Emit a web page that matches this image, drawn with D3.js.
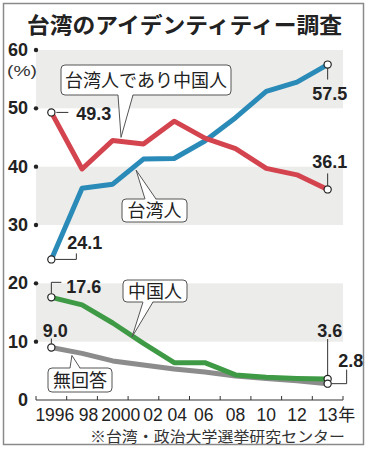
<!DOCTYPE html>
<html><head><meta charset="utf-8">
<script src="https://cdn.jsdelivr.net/npm/d3@7"></script>
<style>
body{margin:0;background:#fff;}
svg{display:block;}
</style></head>
<body>
<svg id="c" width="369" height="450"></svg>
<script>
const categories = ["1996","98","2000","02","04","06","08","10","12","13"];
const taiwanese = [24.1,36.3,37.0,41.3,41.4,44.4,48.4,52.9,54.5,57.5];
const both      = [49.3,39.6,44.5,43.9,47.8,44.9,43.1,39.7,38.6,36.1];
const chinese   = [17.6,16.3,13.2,9.7,6.4,6.4,4.3,3.9,3.7,3.6];
const noAnswer  = [9.0,8.0,6.7,6.0,5.3,4.8,4.1,3.7,3.3,2.8];
const yTicks = [0,10,20,30,40,50,60];
const bands = [[10,20],[30,40],[50,60]];
// layout: horizontal nudges of the x labels (px)
const labelNudge = [3.5,6.5,8,9.5,3,-1,0,0,0,0];

const svg = d3.select("#c");
const jp = "'Noto Sans CJK JP','Noto Sans',sans-serif";
const num = "'Liberation Sans',Arial,sans-serif";

const x = d3.scaleBand().domain(categories).range([36,343]);
const cx = c => x(c) + x.bandwidth()/2;
const y = d3.scaleLinear().domain([0,60]).range([400,50]);

// frame
svg.append("rect").attr("x",3.5).attr("y",3.5).attr("width",360).attr("height",441)
  .attr("fill","#fff").attr("stroke","#8a8a8a").attr("stroke-width",1.5);

// title
svg.append("text").attr("x",27).attr("y",33).attr("textLength",315).attr("lengthAdjust","spacingAndGlyphs")
  .attr("font-family",jp).attr("font-weight",700).attr("font-size",22).attr("fill","#222")
  .text("台湾のアイデンティティー調査");

// bands
svg.selectAll("rect.band").data(bands).enter().append("rect").attr("class","band")
  .attr("x",36).attr("width",307).attr("y",d=>y(d[1])).attr("height",d=>y(d[0])-y(d[1]))
  .attr("fill","#ececea");

// y labels
svg.selectAll("text.yl").data(yTicks).enter().append("text").attr("class","yl")
  .attr("x",28).attr("y",d=>y(d)+6).attr("text-anchor","end")
  .attr("font-family",num).attr("font-weight",700).attr("font-size",18).attr("fill","#222")
  .text(d=>d);
svg.selectAll("circle.yd").data(yTicks.filter(d=>d>0)).enter().append("circle").attr("class","yd")
  .attr("cx",36).attr("cy",d=>y(d)).attr("r",2.2).attr("fill","#222");
svg.append("text").attr("x",7).attr("y",76).attr("textLength",30).attr("lengthAdjust","spacingAndGlyphs")
  .attr("font-family",num).attr("font-size",15).attr("fill","#333").text("(%)");

// x axis
const xAxis = d3.axisBottom(x).tickSize(0).tickFormat(()=> "");
const gx = svg.append("g").attr("transform",`translate(0,${y(0)})`).call(xAxis);
gx.select(".domain").remove();
svg.append("line").attr("x1",36).attr("x2",343).attr("y1",y(0)).attr("y2",y(0)).attr("stroke","#333").attr("stroke-width",1);
const bounds = categories.map(c=>x(c)).concat([x(categories[categories.length-1])+x.bandwidth()]);
svg.selectAll("line.tk").data(bounds).enter().append("line").attr("class","tk")
  .attr("x1",d=>d).attr("x2",d=>d).attr("y1",y(0)).attr("y2",y(0)-4).attr("stroke","#333");
svg.selectAll("text.xl").data(categories).enter().append("text").attr("class","xl")
  .attr("x",(d,i)=>cx(d)+labelNudge[i]).attr("y",421).attr("text-anchor","middle")
  .attr("font-family",num).attr("font-size",17.5).attr("fill","#222")
  .text(d=>d);
svg.append("text").attr("x",cx("13")+10.5).attr("y",421)
  .attr("font-family",jp).attr("font-size",17).attr("fill","#222").text("年");

// source
svg.append("text").attr("x",90).attr("y",442).attr("textLength",255).attr("lengthAdjust","spacingAndGlyphs")
  .attr("font-family",jp).attr("font-size",15).attr("fill","#333")
  .text("※台湾・政治大学選挙研究センター");

// lines
const line = d3.line().x((d,i)=>cx(categories[i])).y(d=>y(d));
const series = [
  {v:noAnswer,c:"#8c8c8c"},
  {v:chinese,c:"#3f9a45"},
  {v:taiwanese,c:"#2a8ab8"},
  {v:both,c:"#d4444f"}
];
svg.selectAll("path.s").data(series).enter().append("path").attr("class","s")
  .attr("d",d=>line(d.v)).attr("fill","none").attr("stroke",d=>d.c)
  .attr("stroke-width",5).attr("stroke-linejoin","round");

// leaders
const lead = svg.append("g").attr("stroke","#333").attr("fill","none").attr("stroke-width",1);
const first = categories[0], last = categories[categories.length-1];
const fx = cx(first), lx = cx(last);
lead.append("path").attr("d",`M${fx+5},${y(both[0])}H${fx+17}`);
lead.append("path").attr("d",`M${lx},${y(taiwanese[9])}V${y(taiwanese[9])+15}`);
lead.append("path").attr("d",`M${lx},${y(both[9])}V${y(both[9])-16}`);
lead.append("path").attr("d",`M${fx+4},${y(taiwanese[0])}H${fx+25}V${y(taiwanese[0])-6}`);
lead.append("path").attr("d",`M${fx},${y(chinese[0])-4}V${y(chinese[0])-15}H${fx+10}`);
lead.append("path").attr("d",`M${fx},${y(noAnswer[0])-4}V${y(noAnswer[0])-9}`);
lead.append("path").attr("d",`M${lx},${y(chinese[9])-4}V${y(chinese[9])-40}`);
lead.append("path").attr("d",`M${lx+4},${y(noAnswer[9])}H${lx+19}V${y(noAnswer[9])-14}`);

// endpoint circles
const ends = [[fx,both[0]],[lx,both[9]],[fx,taiwanese[0]],[lx,taiwanese[9]],
  [fx,chinese[0]],[lx,chinese[9]],[fx,noAnswer[0]],[lx,noAnswer[9]]];
svg.selectAll("circle.e").data(ends).enter().append("circle").attr("class","e")
  .attr("cx",d=>d[0]).attr("cy",d=>y(d[1])).attr("r",3.6)
  .attr("fill","#fff").attr("stroke","#222").attr("stroke-width",1.2);

// value labels
const vl = (tx,ty,t,anchor)=>svg.append("text").attr("x",tx).attr("y",ty).attr("text-anchor",anchor||"start")
  .attr("font-family",num).attr("font-weight",700).attr("font-size",18).attr("fill","#222").text(t);
vl(fx+25, y(both[0])+8, both[0].toFixed(1));
vl(lx+2, y(taiwanese[9])+35, taiwanese[9].toFixed(1),"middle");
vl(lx+2, y(both[9])-21, both[9].toFixed(1),"middle");
vl(fx+16, y(taiwanese[0])-10, taiwanese[0].toFixed(1));
vl(fx+15, y(chinese[0])-4, chinese[0].toFixed(1));
vl(fx+4, y(noAnswer[0])-11, noAnswer[0].toFixed(1),"middle");
vl(lx+2, y(chinese[9])-42, chinese[9].toFixed(1),"middle");
vl(lx+23, y(noAnswer[9])-17, noAnswer[9].toFixed(1),"middle");

// callouts
function lerp(arr,i,t){return arr[i]+(arr[i+1]-arr[i])*t;}
function xAt(i,t){return cx(categories[i])+(cx(categories[i+1])-cx(categories[i]))*t;}
function callout(text,bx,by,bw,bh,b1,b2,baseY,tipX,tipY){
  const g = svg.append("g");
  g.append("rect").attr("x",bx).attr("y",by).attr("width",bw).attr("height",bh).attr("rx",4)
    .attr("fill","#fff").attr("stroke","#555").attr("stroke-width",1);
  const dir = tipY>baseY?1:-1;
  g.append("path").attr("d",`M${b1},${baseY-dir*1}L${tipX},${tipY}L${b2},${baseY-dir*1}Z`).attr("fill","#fff");
  g.append("path").attr("d",`M${b1},${baseY}L${tipX},${tipY}L${b2},${baseY}`).attr("fill","none").attr("stroke","#555").attr("stroke-width",1);
  g.append("text").attr("x",bx+bw/2).attr("y",by+bh/2+6.5).attr("text-anchor","middle")
    .attr("font-family",jp).attr("font-size",18).attr("fill","#222").text(text);
}
callout("台湾人であり中国人",61,65,170,30,118,133,95,xAt(2,0.27),y(lerp(both,2,0.27))-4);
callout("台湾人",122,199,65,23,145,156,199,xAt(2,0.76),y(lerp(taiwanese,2,0.76))+5);
callout("中国人",123,280,64,22,143,153,302,xAt(2,0.63),y(lerp(chinese,2,0.63))+1);
callout("無回答",48,368,64,24,70,80,368,xAt(0,0.67),y(lerp(noAnswer,0,0.67))+4);
</script>
</body></html>
